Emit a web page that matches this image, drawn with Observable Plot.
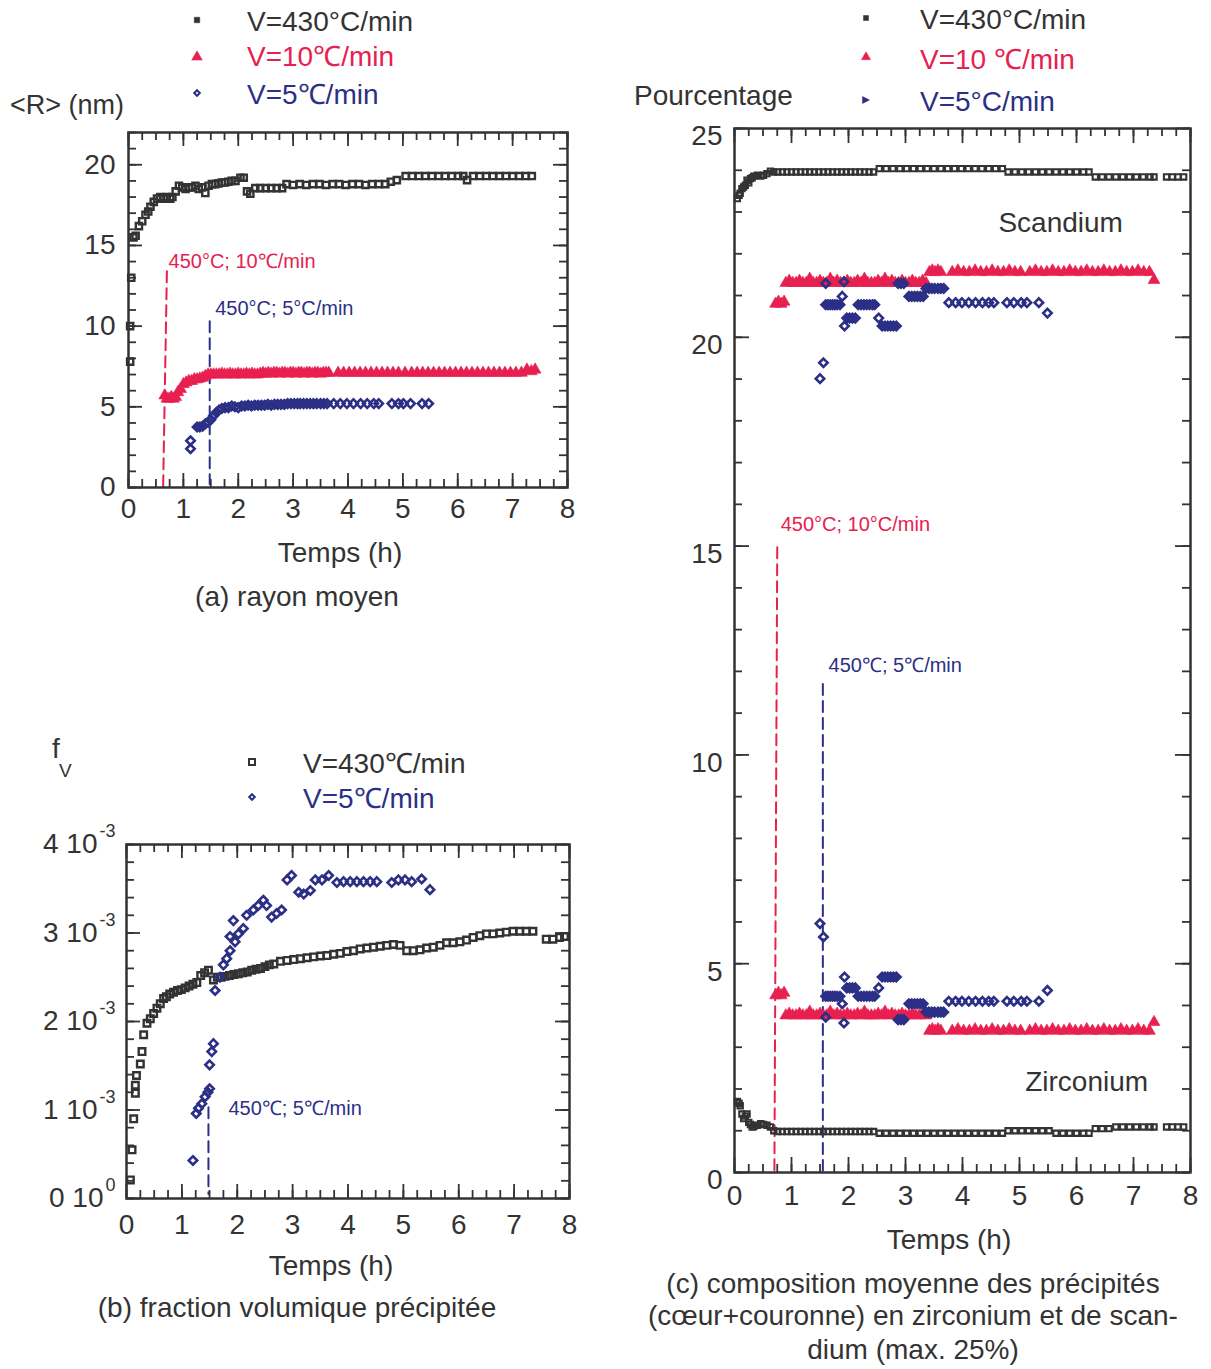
<!DOCTYPE html>
<html>
<head>
<meta charset="utf-8">
<script src="https://cdn.jsdelivr.net/npm/d3@7"></script>
<script src="https://cdn.jsdelivr.net/npm/@observablehq/plot@0.6"></script>
<style>
  html, body { margin: 0; padding: 0; background: #fff; }
  #page { position: relative; width: 1211px; height: 1369px; overflow: hidden;
          font-family: "Liberation Sans", Arial, Helvetica, sans-serif; color: #333; }
  .abs { position: absolute; white-space: nowrap; line-height: 1; }
  .plot { position: absolute; }
</style>
</head>
<body>
<div id="page"></div>
<script>
// ------------------------------------------------------------------
// DATA
// ------------------------------------------------------------------
// (a) rayon moyen <R> (nm) vs temps (h)
const tempsA430 = [0.03,0.03,0.05,0.09,0.13,0.19,0.25,0.31,0.36,0.40,
  0.46,0.52,0.58,0.64,0.70,0.76,0.80,0.86,0.92,0.98,
  1.04,1.10,1.16,1.22,1.28,1.34,1.40,1.46,1.52,1.58,
  1.64,1.70,1.76,1.82,1.88,1.95,2.04,2.10,2.16,2.22,
  2.31,2.40,2.50,2.60,2.70,2.80,2.88,3.00,3.12,3.24,
  3.36,3.48,3.60,3.72,3.84,3.96,4.08,4.20,4.32,4.44,
  4.56,4.68,4.78,4.89,5.05,5.17,5.29,5.41,5.53,5.65,
  5.77,5.89,6.01,6.10,6.17,6.28,6.40,6.52,6.64,6.76,
  6.88,7.00,7.12,7.24,7.35];
const rayonA430 = [7.8,10.0,13.0,15.5,15.6,16.2,16.5,16.9,17.1,17.4,
  17.7,17.9,18.0,17.9,18.0,17.9,18.0,18.35,18.7,18.6,
  18.5,18.6,18.6,18.7,18.5,18.6,18.25,18.7,18.8,18.8,
  18.85,18.9,18.9,18.95,19.0,19.0,19.2,19.2,18.35,18.2,
  18.55,18.55,18.55,18.55,18.55,18.55,18.8,18.75,18.8,18.75,
  18.8,18.8,18.75,18.8,18.8,18.75,18.8,18.8,18.75,18.8,
  18.8,18.8,18.95,19.05,19.3,19.3,19.3,19.3,19.3,19.3,
  19.3,19.3,19.3,19.3,19.05,19.3,19.3,19.3,19.3,19.3,
  19.3,19.3,19.3,19.3,19.3];
const tempsA10 = [0.66,0.70,0.74,0.78,0.82,0.86,0.90,0.95,1.00,1.05,
  1.10,1.15,1.20,1.25,1.30,1.35,1.40,1.45,1.50,1.55,
  1.60,1.65,1.70,1.75,1.80,1.85,1.90,1.95,2.00,2.05,
  2.10,2.15,2.20,2.25,2.30,2.35,2.40,2.45,2.50,2.55,
  2.60,2.65,2.70,2.75,2.80,2.85,2.90,2.95,3.00,3.05,
  3.10,3.15,3.20,3.25,3.30,3.35,3.40,3.45,3.50,3.55,
  3.60,3.65,
  3.82,3.92,4.02,4.12,4.22,4.32,4.42,4.52,4.62,4.72,4.82,4.92,5.04,
  5.16,5.26,5.36,5.46,5.56,5.66,5.76,5.86,5.96,6.06,
  6.16,6.26,6.36,6.46,6.56,6.66,6.76,6.86,6.96,7.06,
  7.16,7.26,7.34,7.41];
const rayonA10 = [5.7,5.5,5.5,5.6,5.5,5.6,5.9,6.1,6.4,6.5,
  6.6,6.6,6.7,6.7,6.75,6.8,6.9,7.0,7.0,7.0,
  7.0,7.0,7.05,7.0,7.0,7.05,7.0,7.0,7.05,7.0,
  7.0,7.05,7.0,7.05,7.0,7.0,7.05,7.1,7.05,7.1,
  7.05,7.1,7.1,7.05,7.1,7.1,7.05,7.1,7.1,7.05,
  7.1,7.1,7.05,7.1,7.1,7.05,7.1,7.1,7.05,7.1,
  7.1,7.1,
  7.1,7.1,7.1,7.1,7.1,7.1,7.1,7.1,7.1,7.1,7.1,7.1,7.1,
  7.1,7.1,7.1,7.1,7.1,7.1,7.1,7.1,7.1,7.1,
  7.1,7.1,7.1,7.1,7.1,7.1,7.1,7.1,7.1,7.1,
  7.1,7.3,7.2,7.3];
const tempsA5 = [1.13,1.13,1.25,1.30,1.35,1.40,1.45,1.50,1.55,1.60,
  1.65,1.70,1.76,1.82,1.88,1.94,2.00,2.06,2.12,2.18,
  2.24,2.30,2.36,2.42,2.48,2.54,2.60,2.66,2.72,2.78,
  2.84,2.90,2.96,3.02,3.08,3.13,3.19,3.25,3.31,3.37,
  3.43,3.50,3.56,3.62,3.74,3.86,3.98,4.10,4.23,4.35,
  4.47,4.56,4.80,4.92,5.01,5.14,5.35,5.47];
const rayonA5 = [2.9,2.4,3.75,3.75,3.8,3.95,4.05,4.2,4.45,4.65,
  4.8,4.9,4.95,4.95,5.05,5.0,4.95,5.05,5.05,5.1,
  5.05,5.1,5.1,5.1,5.1,5.15,5.1,5.15,5.15,5.15,
  5.15,5.2,5.2,5.2,5.2,5.2,5.2,5.2,5.2,5.2,
  5.2,5.2,5.2,5.2,5.2,5.2,5.2,5.2,5.2,5.2,
  5.2,5.2,5.2,5.2,5.2,5.2,5.2,5.2];
// (a) annotation dashed lines and labels
const lineA10 = { t: [0.70, 0.63], r: [13.4, -0.2] };
const lineA5  = { t: [1.48, 1.48], r: [10.3, 0.2] };
const annotA = [
  { t: 0.73, r: 14.0, text: "450°C; 10℃/min", series: "10" },
  { t: 1.58, r: 11.1, text: "450°C; 5°C/min", series: "5" }
];
const ticksA_x = [0,1,2,3,4,5,6,7,8];
const ticksA_y = [0,5,10,15,20];

// (b) fraction volumique fV (x 10^-3) vs temps (h)
const tempsB430 = [0.07,0.10,0.13,0.16,0.16,0.18,0.25,0.28,0.31,0.37,
  0.43,0.49,0.55,0.61,0.67,0.72,0.78,0.85,0.92,0.99,
  1.06,1.13,1.20,1.27,1.34,1.41,1.48,1.57,1.64,1.71,
  1.78,1.86,1.94,2.02,2.10,2.18,2.26,2.34,2.42,2.50,
  2.58,2.66,
  2.78,2.90,3.02,3.14,3.26,3.38,3.50,3.62,3.74,3.86,
  3.98,4.10,4.22,4.34,4.46,4.58,4.70,4.82,4.94,5.06,
  5.18,5.30,5.42,5.54,5.66,5.78,5.90,6.02,6.14,6.26,
  6.38,6.50,6.62,6.74,6.86,6.98,7.10,7.22,7.34,
  7.58,7.70,7.82,7.91];
const fvB430 = [0.21,0.55,0.9,1.19,1.28,1.39,1.52,1.66,1.85,1.98,
  2.03,2.09,2.15,2.2,2.26,2.28,2.31,2.33,2.35,2.36,
  2.38,2.4,2.42,2.44,2.52,2.55,2.58,2.47,2.5,2.5,
  2.51,2.52,2.53,2.54,2.55,2.56,2.58,2.59,2.6,2.62,
  2.64,2.65,
  2.68,2.69,2.70,2.71,2.72,2.73,2.74,2.745,2.76,2.77,
  2.79,2.80,2.82,2.83,2.84,2.85,2.86,2.87,2.86,2.80,
  2.80,2.81,2.83,2.84,2.86,2.89,2.89,2.90,2.92,2.95,
  2.97,2.99,2.99,3.0,3.01,3.02,3.02,3.02,3.02,
  2.93,2.93,2.95,2.96];
const tempsB5 = [1.20,1.26,1.30,1.36,1.42,1.47,1.50,1.50,1.54,1.57,
  1.60,1.69,1.75,1.81,1.87,1.87,1.93,1.96,2.02,2.11,
  2.17,2.29,2.38,2.47,2.53,2.62,2.71,2.80,2.90,2.98,
  3.11,3.20,3.32,3.41,3.53,3.65,3.80,3.92,4.04,4.16,
  4.28,4.40,4.52,4.79,4.91,5.03,5.15,5.33,5.48];
const fvB5 = [0.43,0.96,1.02,1.07,1.15,1.2,1.24,1.51,1.66,1.75,
  2.35,2.5,2.64,2.71,2.8,2.96,3.14,2.9,2.99,3.05,
  3.2,3.26,3.31,3.37,3.31,3.18,3.22,3.26,3.6,3.65,
  3.46,3.44,3.48,3.6,3.6,3.65,3.57,3.58,3.58,3.58,
  3.58,3.58,3.58,3.57,3.6,3.6,3.58,3.61,3.49];
const lineB5 = { t: [1.48, 1.48], fv: [1.03, 0.05] };
const annotB = [{ t: 1.84, fv: 1.02, text: "450℃; 5℃/min" }];
const ticksB_x = [0,1,2,3,4,5,6,7,8];
const ticksB_y = [0,1,2,3,4];               // mantissa, x 10^-3
const ticksB_base = ["0 10","1 10","2 10","3 10","4 10"];
const ticksB_exp  = ["0","-3","-3","-3","-3"];

// (c) composition moyenne (%) Sc & Zr vs temps (h)
const tempsC430 = [0.05,0.08,0.10,0.13,0.16,0.19,0.22,0.25,0.28,0.31,
  0.34,0.40,0.46,0.51,0.57,0.63,0.69,0.76,0.84,0.92,
  1.00,1.08,1.16,1.24,1.32,1.40,1.48,1.56,1.64,1.72,
  1.80,1.88,1.96,2.04,2.12,2.20,2.28,2.36,2.44,2.54,
  2.66,2.78,2.90,3.02,3.14,3.26,3.38,3.50,3.62,3.74,
  3.86,3.98,4.10,4.22,4.34,4.46,4.58,4.70,4.80,4.92,
  5.04,5.16,5.28,5.40,5.52,5.64,5.76,5.88,6.00,6.12,
  6.22,6.33,6.45,6.57,6.69,6.81,6.93,7.05,7.17,7.29,
  7.36,7.58,7.68,7.78,7.88];
const scC430 = [23.32,23.4,23.45,23.56,23.6,23.64,23.76,23.7,23.8,23.82,
  23.86,23.88,23.86,23.88,23.92,23.98,23.96,23.96,23.96,23.96,
  23.96,23.96,23.96,23.96,23.96,23.96,23.96,23.96,23.96,23.96,
  23.96,23.96,23.96,23.96,23.96,23.96,23.96,23.96,23.96,24.04,
  24.04,24.04,24.04,24.04,24.04,24.04,24.04,24.04,24.04,24.04,
  24.04,24.04,24.04,24.04,24.04,24.04,24.04,24.04,23.96,23.96,
  23.96,23.96,23.96,23.96,23.96,23.96,23.96,23.96,23.96,23.96,
  23.96,23.84,23.84,23.84,23.84,23.84,23.84,23.84,23.84,23.84,
  23.84,23.84,23.84,23.84,23.84];
const zrC430 = [1.7,1.66,1.6,1.4,1.29,1.35,1.4,1.2,1.15,1.09,
  1.1,1.13,1.17,1.15,1.13,1.09,1.0,0.98,0.98,0.98,
  0.98,0.98,0.98,0.98,0.98,0.98,0.98,0.98,0.98,0.98,
  0.98,0.98,0.98,0.98,0.98,0.98,0.98,0.98,0.98,0.94,
  0.94,0.94,0.94,0.94,0.94,0.94,0.94,0.94,0.94,0.94,
  0.94,0.94,0.94,0.94,0.94,0.94,0.94,0.94,1.0,1.0,
  1.0,1.0,1.0,1.0,1.0,0.94,0.94,0.94,0.94,0.94,
  0.94,1.05,1.05,1.05,1.09,1.09,1.09,1.09,1.09,1.09,
  1.09,1.09,1.09,1.09,1.09];
const tempsC10 = [0.72,0.77,0.82,0.87,
  0.90,0.96,1.02,1.08,1.14,1.20,1.26,1.32,1.38,1.44,
  1.50,1.56,1.62,1.68,1.74,1.80,1.86,1.92,1.98,2.04,
  2.10,2.16,2.22,2.28,2.34,2.40,2.46,2.52,2.58,2.64,
  2.70,2.76,2.82,2.88,2.94,3.00,3.06,3.12,3.18,3.24,
  3.30,3.36,
  3.42,3.47,3.52,3.57,3.62,
  3.82,3.92,4.02,4.12,4.22,4.32,4.42,4.52,4.62,4.72,4.82,4.92,5.02,
  5.18,5.28,5.38,5.48,5.58,5.68,5.78,5.88,5.98,6.08,6.18,6.28,6.38,6.48,6.58,6.68,6.78,6.88,6.98,7.08,7.18,7.28,
  7.36];
const scC10 = [20.8,20.85,20.8,20.85,
  21.3,21.35,21.3,21.3,21.35,21.3,21.3,21.4,21.3,21.3,
  21.35,21.3,21.3,21.4,21.3,21.35,21.3,21.3,21.35,21.3,
  21.3,21.35,21.3,21.4,21.3,21.3,21.3,21.35,21.3,21.4,
  21.3,21.35,21.3,21.3,21.35,21.3,21.3,21.35,21.3,21.3,
  21.35,21.3,
  21.56,21.6,21.56,21.6,21.56,
  21.56,21.6,21.56,21.56,21.6,21.56,21.56,21.6,21.56,21.56,21.6,21.56,21.56,
  21.56,21.6,21.56,21.56,21.6,21.56,21.56,21.6,21.56,21.56,21.6,21.56,21.56,21.6,21.56,21.56,21.6,21.56,21.56,21.6,21.56,21.56,
  21.37];
const zrC10 = [4.24,4.3,4.24,4.3,
  3.76,3.8,3.76,3.76,3.8,3.76,3.76,3.85,3.76,3.76,
  3.8,3.76,3.76,3.85,3.76,3.8,3.76,3.76,3.8,3.76,
  3.76,3.8,3.76,3.85,3.76,3.76,3.76,3.8,3.76,3.85,
  3.76,3.8,3.76,3.76,3.8,3.76,3.76,3.8,3.76,3.76,
  3.8,3.76,
  3.39,3.43,3.39,3.43,3.39,
  3.39,3.43,3.39,3.39,3.43,3.39,3.39,3.43,3.39,3.39,3.43,3.39,3.39,
  3.39,3.43,3.39,3.39,3.43,3.39,3.39,3.43,3.39,3.39,3.43,3.39,3.39,3.43,3.39,3.39,3.43,3.39,3.39,3.43,3.39,3.39,
  3.6];
const tempsC5 = [1.50,1.56,1.60,1.60,1.64,1.68,1.72,1.76,1.80,1.85,
  1.89,1.92,1.93,1.97,2.02,2.07,2.12,2.17,2.22,2.27,
  2.32,2.37,2.42,2.46,2.53,2.59,2.64,2.69,2.74,2.79,
  2.84,2.87,2.92,2.97,3.06,3.11,3.16,3.21,3.26,3.31,
  3.36,3.41,3.46,3.51,3.57,3.62,3.67,3.76,3.88,3.99,
  4.11,4.23,4.35,4.46,4.55,4.78,4.90,5.03,5.13,5.34,
  5.49];
const scC5 = [19.01,19.39,21.29,20.78,20.78,20.78,20.78,20.78,20.78,20.78,
  20.98,21.33,20.27,20.46,20.46,20.46,20.46,20.78,20.78,20.78,
  20.78,20.78,20.78,20.78,20.46,20.27,20.27,20.27,20.27,20.27,
  20.27,21.29,21.29,21.29,20.98,20.98,20.98,20.98,20.98,20.98,
  21.17,21.17,21.17,21.17,21.17,21.17,21.17,20.83,20.83,20.83,
  20.83,20.83,20.83,20.83,20.83,20.83,20.83,20.83,20.83,20.83,
  20.58];
const zrC5 = [5.96,5.64,3.72,4.22,4.22,4.22,4.22,4.22,4.22,4.22,
  4.04,3.58,4.68,4.42,4.42,4.42,4.42,4.22,4.22,4.22,
  4.22,4.22,4.22,4.22,4.42,4.68,4.68,4.68,4.68,4.68,
  4.68,3.66,3.66,3.66,4.04,4.04,4.04,4.04,4.04,4.04,
  3.84,3.84,3.84,3.84,3.84,3.84,3.84,4.1,4.1,4.1,
  4.1,4.1,4.1,4.1,4.1,4.1,4.1,4.1,4.1,4.1,
  4.36];
const lineC10 = { t: [0.75, 0.70], p: [14.97, 0] };
const lineC5  = { t: [1.55, 1.55], p: [11.7, 0] };
const annotC = [
  { t: 0.81, p: 15.52, text: "450°C; 10°C/min", color: "red", size: 20 },
  { t: 1.65, p: 12.14, text: "450℃; 5℃/min", color: "navy", size: 20 },
  { t: 4.63, p: 22.73, text: "Scandium", color: "ink", size: 28 },
  { t: 5.10, p: 2.16, text: "Zirconium", color: "ink", size: 28 }
];
const ticksC_x = [0,1,2,3,4,5,6,7,8];
const ticksC_y = [0,5,10,15,20,25];

// ------------------------------------------------------------------
// STYLE
// ------------------------------------------------------------------
const RED = "#e8204f", NAVY = "#2b2f86", INK = "#333333";
const COLORS = { red: RED, navy: NAVY, ink: INK };
const FONT = "'Liberation Sans', Arial, Helvetica, sans-serif";
const page = document.getElementById("page");

function panelPlot(o) {
  const W = o.width - o.marginLeft - o.marginRight;
  const H = o.height - o.marginTop - o.marginBottom;
  const ts = { stroke: INK, strokeWidth: 1.8 };
  const marks = [
    Plot.tickX(o.xMinor, { x: d => d, insetTop: H - o.minL, ...ts }),
    Plot.tickX(o.xMinor, { x: d => d, insetBottom: H - o.minL, ...ts }),
    Plot.tickX(o.xMajor, { x: d => d, insetTop: H - o.majL, ...ts }),
    Plot.tickX(o.xMajor, { x: d => d, insetBottom: H - o.majL, ...ts }),
    Plot.tickY(o.yMinor, { y: d => d, insetRight: W - o.minL, ...ts }),
    Plot.tickY(o.yMinor, { y: d => d, insetLeft: W - o.minL, ...ts }),
    Plot.tickY(o.yMajor, { y: d => d, insetRight: W - o.majL, ...ts }),
    Plot.tickY(o.yMajor, { y: d => d, insetLeft: W - o.majL, ...ts }),
    Plot.axisX(o.xLabels, { tickSize: 0, tickPadding: o.xPad, fontSize: 28, label: null, tickFormat: d => String(d) }),
    ...(o.yLabels ? [Plot.axisY(o.yLabels, { tickSize: 0, tickPadding: o.yPad, dy: o.yDy || 0, fontSize: 28, label: null, tickFormat: d => String(d) })] : []),
    ...o.marks,
    Plot.frame({ stroke: INK, strokeWidth: 2.5 })
  ];
  const svg = Plot.plot({
    width: o.width, height: o.height,
    marginLeft: o.marginLeft, marginRight: o.marginRight,
    marginTop: o.marginTop, marginBottom: o.marginBottom,
    x: { domain: o.xDomain, axis: null },
    y: { domain: o.yDomain, axis: null },
    style: { fontFamily: FONT, color: INK, background: "transparent", overflow: "visible" },
    marks
  });
  svg.classList.add("plot");
  svg.style.left = o.left + "px";
  svg.style.top = o.top + "px";
  page.appendChild(svg);
  return svg;
}

function txt(s, x, y, { size = 28, color = INK, anchor = "start", html = false } = {}) {
  const d = document.createElement("div");
  d.className = "abs";
  d.style.left = x + "px";
  d.style.top = y + "px";
  d.style.fontSize = size + "px";
  d.style.color = color;
  d.style.transform = `translate(${anchor === "middle" ? "-50%" : "0"}, -50%)`;
  if (html) d.innerHTML = s; else d.textContent = s;
  page.appendChild(d);
  return d;
}

function legendSymbol(kind, cx, cy, color, size, filled) {
  const s = document.createElementNS("http://www.w3.org/2000/svg", "svg");
  s.setAttribute("width", 20); s.setAttribute("height", 20);
  s.style.position = "absolute";
  s.style.left = (cx - 10) + "px"; s.style.top = (cy - 10) + "px";
  s.style.overflow = "visible";
  const p = document.createElementNS("http://www.w3.org/2000/svg", "path");
  const sym = { square: d3.symbolSquare, triangle: d3.symbolTriangle, diamond: d3.symbolDiamond2,
                right: null }[kind];
  let dpath;
  if (kind === "right") dpath = `M${-size/2},${-size/2}L${size/2},0L${-size/2},${size/2}Z`;
  else dpath = d3.symbol(sym, size * size)();
  p.setAttribute("d", dpath);
  p.setAttribute("transform", "translate(10,10)");
  p.setAttribute("fill", filled ? color : "none");
  p.setAttribute("stroke", color);
  p.setAttribute("stroke-width", filled ? 0.5 : 2);
  s.appendChild(p);
  page.appendChild(s);
}

const minor025 = d3.range(0, 8.001, 0.25);
const dash = "11,6";
const SQ = { symbol: "square", stroke: INK, strokeWidth: 2.4, fill: "none" };
const TRI = { symbol: "triangle", fill: RED, stroke: RED, strokeWidth: 0.6 };
const DIA = { symbol: "diamond2", stroke: NAVY, strokeWidth: 2.6, fill: "none" };

// ------------------------------------------------------------------
// (a)
// ------------------------------------------------------------------
panelPlot({
  left: 0, top: 120, width: 600, height: 440,
  marginLeft: 128, marginRight: 33, marginTop: 12, marginBottom: 73,
  xDomain: [0, 8], yDomain: [0, 22],
  xMajor: ticksA_x, xMinor: minor025, yMajor: ticksA_y, yMinor: d3.range(0, 22.01, 1),
  majL: 14, minL: 8,
  xLabels: ticksA_x, xPad: 11, yLabels: ticksA_y, yPad: 13,
  marks: [
    Plot.line(lineA10.t.map((t, i) => ({ t, r: lineA10.r[i] })), { x: "t", y: "r", stroke: RED, strokeWidth: 2, strokeDasharray: dash }),
    Plot.line(lineA5.t.map((t, i) => ({ t, r: lineA5.r[i] })), { x: "t", y: "r", stroke: NAVY, strokeWidth: 2, strokeDasharray: dash }),
    Plot.dot(tempsA430, { x: tempsA430, y: rayonA430, r: 3.5, ...SQ }),
    Plot.dot(tempsA10, { x: tempsA10, y: rayonA10, r: 4.4, ...TRI }),
    Plot.dot(tempsA5, { x: tempsA5, y: rayonA5, r: 3.8, ...DIA }),
    Plot.text(annotA, { x: "t", y: "r", text: "text", fill: d => d.series === "10" ? RED : NAVY, fontSize: 20, textAnchor: "start" })
  ]
});
// legend (a)
legendSymbol("square", 197, 20, INK, 5.5, true);
legendSymbol("triangle", 197, 57, RED, 7, true);
legendSymbol("diamond", 197, 93, NAVY, 4.5, false);
txt("V=430°C/min", 247, 22, { color: INK });
txt("V=10℃/min", 247, 57, { color: RED });
txt("V=5℃/min", 247, 95, { color: NAVY });
txt("&lt;R&gt; (nm)", 10, 105, { size: 27, html: true });
txt("Temps (h)", 340, 553, { anchor: "middle" });
txt("(a) rayon moyen", 297, 597, { anchor: "middle" });

// ------------------------------------------------------------------
// (b)
// ------------------------------------------------------------------
const ticksB = ticksB_y.map((v, i) => ({ v, base: ticksB_base[i], exp: ticksB_exp[i] }));
panelPlot({
  left: 0, top: 830, width: 600, height: 430,
  marginLeft: 126, marginRight: 31, marginTop: 14, marginBottom: 62,
  xDomain: [0, 8], yDomain: [0, 4],
  xMajor: ticksB_x, xMinor: minor025, yMajor: ticksB_y, yMinor: d3.range(0, 4.001, 0.2),
  majL: 14, minL: 8,
  xLabels: ticksB_x, xPad: 16,
  marks: [
    Plot.text(ticksB, { filter: d => d.exp !== "0", y: "v", frameAnchor: "left", text: "base", dx: -29, textAnchor: "end", fontSize: 28, fill: INK }),
    Plot.text(ticksB, { filter: d => d.exp === "0", y: "v", frameAnchor: "left", text: "base", dx: -23, textAnchor: "end", fontSize: 28, fill: INK }),
    Plot.text(ticksB, { y: "v", frameAnchor: "left", text: "exp", dx: -11, dy: -13, textAnchor: "end", fontSize: 18, fill: INK }),
    Plot.line(lineB5.t.map((t, i) => ({ t, f: lineB5.fv[i] })), { x: "t", y: "f", stroke: NAVY, strokeWidth: 2, strokeDasharray: dash }),
    Plot.dot(tempsB430, { x: tempsB430, y: fvB430, r: 3.7, ...SQ }),
    Plot.dot(tempsB5, { x: tempsB5, y: fvB5, r: 3.8, ...DIA }),
    Plot.text(annotB, { x: "t", y: "fv", text: "text", fill: NAVY, fontSize: 20, textAnchor: "start" })
  ]
});
legendSymbol("square", 252, 762, INK, 6, false);
legendSymbol("diamond", 252, 797, NAVY, 4.5, false);
txt("V=430℃/min", 303, 764, { color: INK });
txt("V=5℃/min", 303, 799, { color: NAVY });
txt("f", 52, 749, { size: 28 });
txt("V", 59, 770, { size: 19 });
txt("Temps (h)", 331, 1266, { anchor: "middle" });
txt("(b) fraction volumique précipitée", 297, 1308, { anchor: "middle" });

// ------------------------------------------------------------------
// (c)
// ------------------------------------------------------------------
panelPlot({
  left: 600, top: 120, width: 611, height: 1100,
  marginLeft: 134, marginRight: 21, marginTop: 8, marginBottom: 48,
  xDomain: [0, 8], yDomain: [0, 25],
  xMajor: ticksC_x, xMinor: minor025, yMajor: ticksC_y, yMinor: d3.range(0, 25.01, 1),
  majL: 15, minL: 8,
  xLabels: ticksC_x, xPad: 13, yLabels: ticksC_y, yPad: 12, yDy: 8,
  marks: [
    Plot.line(lineC10.t.map((t, i) => ({ t, p: lineC10.p[i] })), { x: "t", y: "p", stroke: RED, strokeWidth: 2, strokeDasharray: dash }),
    Plot.line(lineC5.t.map((t, i) => ({ t, p: lineC5.p[i] })), { x: "t", y: "p", stroke: NAVY, strokeWidth: 2, strokeDasharray: dash }),
    Plot.dot(tempsC430, { x: tempsC430, y: scC430, r: 3.0, ...SQ, strokeWidth: 2.1 }),
    Plot.dot(tempsC430, { x: tempsC430, y: zrC430, r: 3.0, ...SQ, strokeWidth: 2.1 }),
    Plot.dot(tempsC10, { x: tempsC10, y: scC10, r: 4.4, ...TRI }),
    Plot.dot(tempsC10, { x: tempsC10, y: zrC10, r: 4.4, ...TRI }),
    Plot.dot(tempsC5, { x: tempsC5, y: scC5, r: 3.8, ...DIA }),
    Plot.dot(tempsC5, { x: tempsC5, y: zrC5, r: 3.8, ...DIA }),
    Plot.text(annotC, { x: "t", y: "p", text: "text", fill: d => COLORS[d.color], fontSize: d => d.size, textAnchor: "start" })
  ]
});
legendSymbol("square", 866, 18, INK, 5, true);
legendSymbol("triangle", 866, 57, RED, 6, true);
legendSymbol("right", 866, 100, NAVY, 7, true);
txt("V=430°C/min", 920, 20, { color: INK });
txt("V=10 ℃/min", 920, 60, { color: RED });
txt("V=5°C/min", 920, 102, { color: NAVY });
txt("Pourcentage", 634, 96);
txt("Temps (h)", 949, 1240, { anchor: "middle" });
txt("(c) composition moyenne des précipités", 913, 1284, { anchor: "middle" });
txt("(cœur+couronne) en zirconium et de scan-", 913, 1316, { anchor: "middle" });
txt("dium (max. 25%)", 913, 1350, { anchor: "middle" });
</script>
</body>
</html>
